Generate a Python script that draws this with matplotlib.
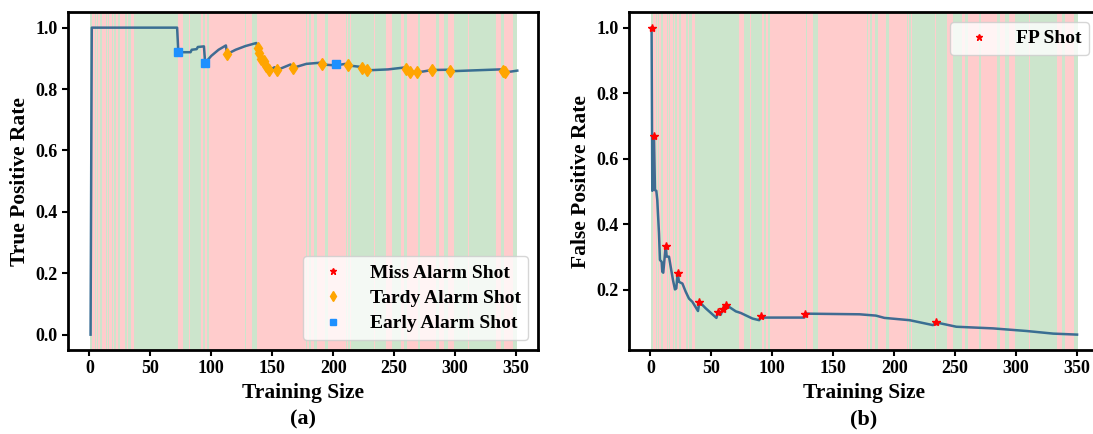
import matplotlib
matplotlib.use('Agg')
import matplotlib.pyplot as plt
from matplotlib.lines import Line2D

plt.rcParams['font.family'] = ['Liberation Serif', 'DejaVu Serif']
plt.rcParams['font.weight'] = 'bold'
plt.rcParams['axes.labelweight'] = 'bold'

# ---- background stripes (shot class along training order), run-length ----
run_labels = ['G','R','G','R','G','R','G','R','G','R','G','R','G','R','G','R','G','R','G','R','G','R',
              'G','R','G','R','G','R','G','R','G','R','G','R','G','R',
              'G','R','G','R','G','R','G','R','G','R','G','R','G','R','G','R','G','R','G','R',
              'G','R','G','R','G','R','G','R','G','R','G','R','G']
run_lengths = [2,2,1,1,1,1,2,3,1,1,1,2,1,1,1,2,2,4,1,1,3,2,
               36,4,5,1,9,2,1,2,2,29,1,5,4,40,
               1,2,1,3,2,7,2,15,1,1,1,1,19,1,9,5,7,3,2,9,
               2,13,2,4,4,5,11,1,22,4,3,7,3]

# ---- panel (a): true positive rate ----
tpr_x = [1, 2, 72, 73, 83, 84, 88, 89, 94, 95, 100, 106, 112, 113, 120, 128, 137, 138, 139, 141,
         143, 145, 147, 152, 154, 165, 167, 178, 190, 191, 202, 210, 212, 223, 224, 228, 245, 258,
         260, 263, 269, 281, 295, 296, 337, 339, 341, 351]
tpr_y = [0.0, 1.0, 1.0, 0.92, 0.92, 0.928, 0.93, 0.937, 0.939, 0.885, 0.908, 0.928, 0.942, 0.914,
         0.928, 0.940, 0.950, 0.934, 0.917, 0.898, 0.890, 0.874, 0.861, 0.871, 0.862, 0.880, 0.869,
         0.882, 0.886, 0.880, 0.877, 0.882, 0.877, 0.872, 0.870, 0.861, 0.864, 0.870, 0.866, 0.857,
         0.854, 0.862, 0.863, 0.858, 0.864, 0.860, 0.854, 0.860]
early_x = [73, 95, 202]
early_y = [0.92, 0.885, 0.880]
tardy_x = [113, 138, 139, 141, 143, 145, 147, 154, 167, 191, 212, 224, 228, 260, 263, 269, 281,
           296, 339, 341]
tardy_y = [0.914, 0.934, 0.917, 0.898, 0.890, 0.874, 0.861, 0.862, 0.869, 0.880, 0.877, 0.870,
           0.861, 0.866, 0.857, 0.854, 0.862, 0.860, 0.860, 0.854]
miss_x = []
miss_y = []

# ---- panel (b): false positive rate ----
fpr_x = [1, 1.6, 3, 3.8, 4.9, 5.7, 7.1, 7.9, 9.3, 9.8, 10.6, 12.6, 13.4, 15.3, 16.7, 18.6, 20.2,
         21.3, 22.4, 23.5, 26.3, 29, 31.7, 34.5, 39.1, 40.2, 45.5, 54.2, 55.6, 57.8, 59.4, 62.4,
         70.1, 74.2, 83.8, 89.3, 90.7, 92, 126.3, 126.9, 171.6, 185, 192, 212.7, 231.8, 234.6,
         251, 281, 308.6, 330.5, 350]
fpr_y = [1.0, 0.502, 0.668, 0.504, 0.502, 0.474, 0.372, 0.291, 0.285, 0.255, 0.252, 0.334, 0.301,
         0.301, 0.270, 0.229, 0.201, 0.204, 0.252, 0.224, 0.219, 0.194, 0.173, 0.163, 0.135, 0.163,
         0.143, 0.114, 0.132, 0.124, 0.141, 0.153, 0.134, 0.129, 0.112, 0.107, 0.119, 0.115, 0.115,
         0.127, 0.125, 0.121, 0.114, 0.107, 0.092, 0.100, 0.087, 0.082, 0.074, 0.066, 0.063]
fp_x = [1, 3, 12.6, 22.4, 40.2, 55.6, 59.4, 62.4, 90.7, 126.9, 234.6]
fp_y = [1.0, 0.668, 0.334, 0.252, 0.163, 0.132, 0.141, 0.153, 0.119, 0.127, 0.100]

xticks = [0, 50, 100, 150, 200, 250, 300, 350]

W, H = 1093, 434
fig = plt.figure(figsize=(W / 100, H / 100), dpi=100)
axw = (538 - 68) / W
axh = (350 - 12.3) / H
axb = 1 - 350 / H
ax1 = fig.add_axes([68 / W, axb, axw, axh])
ax2 = fig.add_axes([629 / W, axb, axw, axh])

stripe_col = {'G': (0.0, 0.5, 0.0, 0.2), 'R': (1.0, 0.0, 0.0, 0.2)}
line_col = '#1f5a88'

shot_labels = []
for lab, n in zip(run_labels, run_lengths):
    shot_labels.extend([lab] * n)


def draw_stripes(ax):
    for i, lab in enumerate(shot_labels, start=1):
        ax.axvspan(i - 0.5, i + 0.5, color=stripe_col[lab], lw=0, zorder=0)


def style(ax):
    for s in ax.spines.values():
        s.set_linewidth(2.0)
        s.set_color('black')
    ax.tick_params(width=1.5, length=4, labelsize=13)
    for t in ax.get_xticklabels() + ax.get_yticklabels():
        t.set_fontweight('bold')
    ax.set_xticks(xticks)
    ax.set_xlim(-17.5, 368)
    ax.set_xlabel('Training Size', fontsize=15.5, fontweight='bold')


# Panel (a)
draw_stripes(ax1)
ax1.plot(tpr_x, tpr_y, color=line_col, lw=1.8, alpha=0.85, zorder=2)
ax1.plot(miss_x, miss_y, '*', color='red', ms=6, ls='none', zorder=3)
ax1.plot(tardy_x, tardy_y, 'd', color='orange', ms=6, ls='none', zorder=3)
ax1.plot(early_x, early_y, 's', color='#1e90ff', ms=5.5, ls='none', zorder=3)
ax1.set_ylim(-0.05, 1.05)
ax1.set_yticks([0.0, 0.2, 0.4, 0.6, 0.8, 1.0])
ax1.set_yticklabels(['0.0', '0.2', '0.4', '0.6', '0.8', '1.0'])
ax1.set_ylabel('True Positive Rate', fontsize=15.5, fontweight='bold')
style(ax1)
h1 = [Line2D([], [], marker='*', color='red', ls='none', ms=5),
      Line2D([], [], marker='d', color='orange', ls='none', ms=5),
      Line2D([], [], marker='s', color='#1e90ff', ls='none', ms=4.5)]
ax1.legend(h1, ['Miss Alarm Shot', 'Tardy Alarm Shot', 'Early Alarm Shot'], loc='lower right',
           prop={'family': 'Liberation Serif', 'weight': 'bold', 'size': 14},
           handlelength=2.2, labelspacing=0.4)
ax1.text(0.5, -0.207, '(a)', transform=ax1.transAxes, ha='center', va='center',
         fontsize=16, fontweight='bold')

# Panel (b)
draw_stripes(ax2)
ax2.plot(fpr_x, fpr_y, color=line_col, lw=1.8, alpha=0.85, zorder=2)
ax2.plot(fp_x, fp_y, '*', color='red', ms=6, ls='none', zorder=3)
ax2.set_ylim(0.016, 1.047)
ax2.set_yticks([0.2, 0.4, 0.6, 0.8, 1.0])
ax2.set_yticklabels(['0.2', '0.4', '0.6', '0.8', '1.0'])
ax2.set_ylabel('False Positive Rate', fontsize=15.5, fontweight='bold')
style(ax2)
h2 = [Line2D([], [], marker='*', color='red', ls='none', ms=5)]
ax2.legend(h2, ['FP Shot'], loc='upper right',
           prop={'family': 'Liberation Serif', 'weight': 'bold', 'size': 14},
           handlelength=2.2)
ax2.text(0.5, -0.207, '(b)', transform=ax2.transAxes, ha='center', va='center',
         fontsize=16, fontweight='bold')

fig.savefig('out.png', dpi=100)
